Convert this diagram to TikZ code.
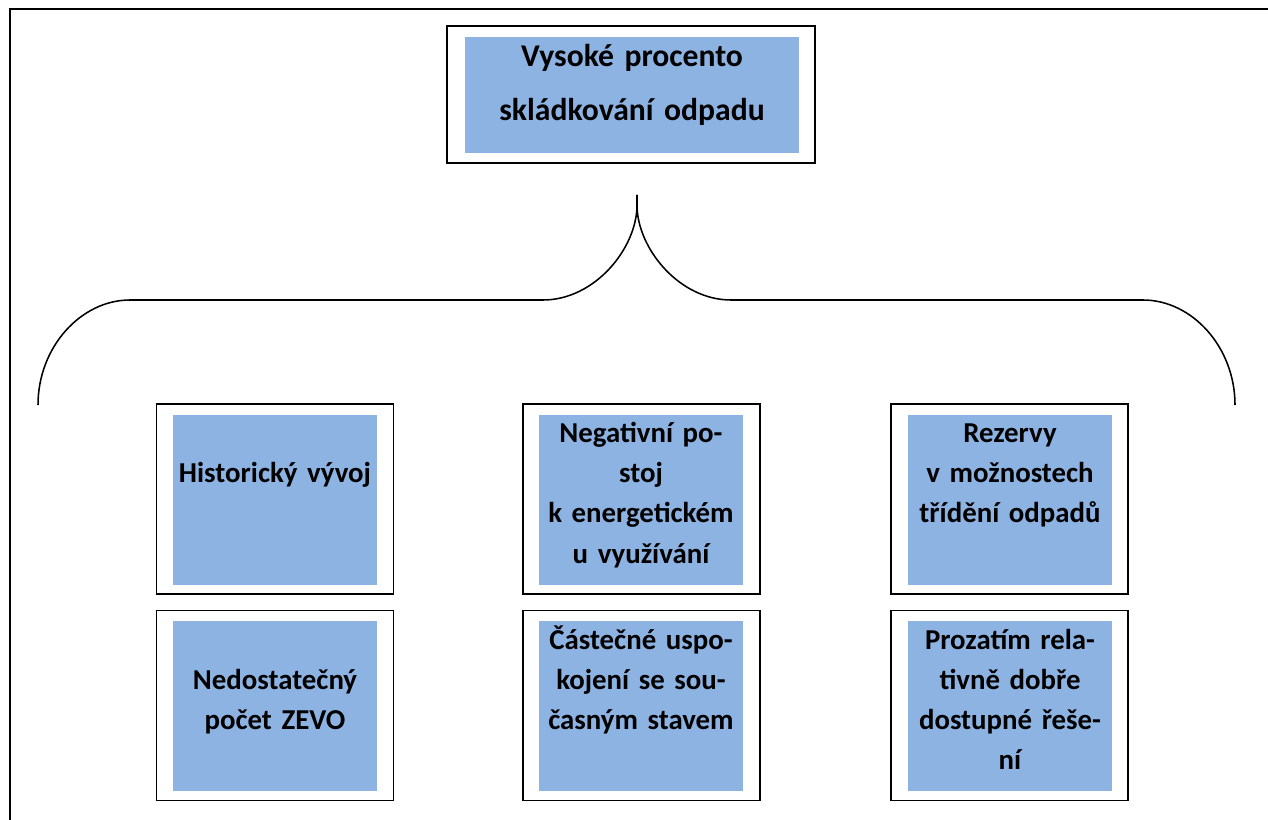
\documentclass[tikz,border=0pt]{standalone}
\usepackage{fontspec}
\setmainfont{Carlito}
\usepackage{xcolor}
\definecolor{modra}{RGB}{141,179,226}

\begin{document}
\begin{tikzpicture}[x=0.025cm, y=-0.025cm,
  ramec/.style={draw, line width=1.1pt, minimum width=5.925cm, minimum height=4.75cm},
  vypln/.style={fill=modra, inner sep=0pt, minimum width=5.1cm, minimum height=4.25cm},
  popis/.style={anchor=base, text width=6cm, align=center, inner sep=0pt,
    font=\fontsize{20.5}{28.5}\selectfont\bfseries}]
\useasboundingbox (0,0) rectangle (1268,820);
% ramecek stranky
\draw[line width=2pt] (10,820) -- (10,9) -- (1268,9);

% hlavni problem
\node[ramec, minimum width=9.2cm, minimum height=3.425cm] (hlavaR) at (631,94.5) {};
\node[vypln, minimum width=8.35cm, minimum height=2.9cm] (hlava) at (632,95) {};
\node[popis, text width=8cm, font=\fontsize{22.5}{38.4}\selectfont\bfseries] (hlavaT) at ([yshift=-21pt]hlava.north)
  {Vysoké procento\\skládkování odpadu};

% slozena zavorka
\coordinate (hrot) at (637,195);
\draw[line width=1.1pt] (38,405) .. controls (38,347) and (81,300) .. (130,300) -- (543,300)
  .. controls (595,300) and (637,248) .. (637,205) -- (hrot);
\draw[line width=1.1pt] (1235,405) .. controls (1235,347) and (1192,300) .. (1143,300) -- (731,300)
  .. controls (679,300) and (637,248) .. (637,205) -- (hrot);

% prvni rada
\node[ramec] (histR) at (275,499) {};
\node[vypln] (hist) at (275,500) {};
\node[popis] (histT) at ([yshift=-48.5pt]hist.north) {Historický vývoj};

\node[ramec] (postojR) at (641.5,499) {};
\node[vypln] (postoj) at (641,500) {};
\node[popis] (postojT) at ([yshift=-20pt]postoj.north)
  {Negativní po-\\stoj\\k energetickém\\u využívání};

\node[ramec] (trideniR) at (1009.5,499) {};
\node[vypln] (trideni) at (1010,500) {};
\node[popis] (trideniT) at ([yshift=-20pt]trideni.north)
  {Rezervy\\v možnostech\\třídění odpadů};

% druha rada
\node[ramec] (zevoR) at (275,705.5) {};
\node[vypln] (zevo) at (275,706) {};
\node[popis] (zevoT) at ([yshift=-49pt]zevo.north) {Nedostatečný\\počet ZEVO};

\node[ramec] (stavR) at (641.5,705.5) {};
\node[vypln] (stav) at (641,706) {};
\node[popis] (stavT) at ([yshift=-20.5pt]stav.north)
  {Částečné uspo-\\kojení se sou-\\časným stavem};

\node[ramec] (reseniR) at (1009.5,705.5) {};
\node[vypln] (reseni) at (1010,706) {};
\node[popis] (reseniT) at ([yshift=-20.5pt]reseni.north)
  {Prozatím rela-\\tivně dobře\\dostupné řeše-\\ní};
\end{tikzpicture}
\end{document}
